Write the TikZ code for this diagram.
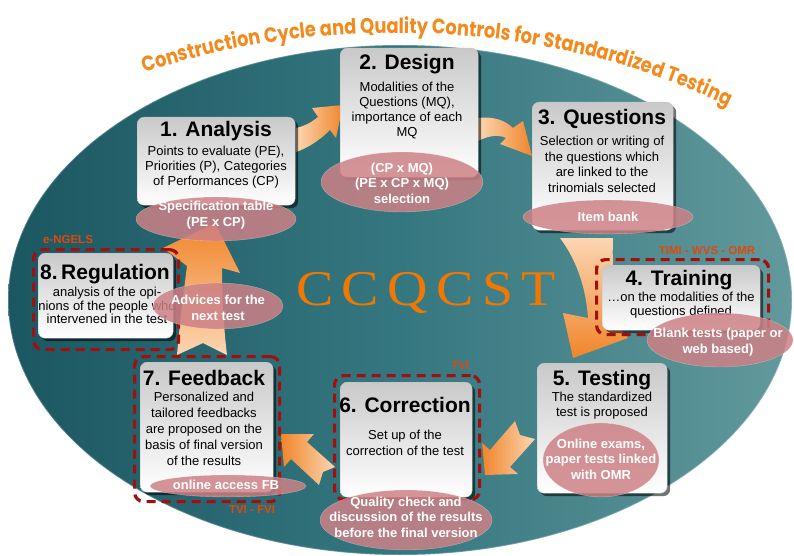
\documentclass[tikz,border=0pt]{standalone}
\usepackage{fontspec}
\setmainfont{Liberation Sans}
\newfontfamily\titlefont{Poppins}[FakeStretch=0.85]
\newfontfamily\ccfont{Liberation Serif}[LetterSpace=15]
\usetikzlibrary{shadows,decorations.text,shapes.geometric}
\definecolor{bgdark}{HTML}{1B5761}
\definecolor{bgmid}{HTML}{357780}
\definecolor{bglight}{HTML}{62999C}
\definecolor{arrowor}{HTML}{F0852A}
\definecolor{arrowpe}{HTML}{FCD6B2}
\definecolor{ellfill}{HTML}{CD8186}
\definecolor{dashred}{HTML}{A30E0E}
\definecolor{labelor}{HTML}{E0480C}
\definecolor{titleor}{HTML}{F28A1E}
\definecolor{ccor}{HTML}{F07800}
\definecolor{boxtop}{HTML}{C9C9C9}
\tikzset{
 boxst/.style={draw=gray!45, line width=0.4pt, rounded corners=7pt, top color=boxtop, bottom color=white,
   drop shadow={shadow xshift=3pt, shadow yshift=-3pt, opacity=0.55, fill=black}, inner sep=0, anchor=north west},
 headst/.style={font=\bfseries\fontsize{21}{21}\selectfont, inner sep=0, anchor=base},
 bodyst/.style={font=\fontsize{13}{15}\selectfont, align=center, inner sep=0, anchor=north},
 ellst/.style={ellipse, fill=ellfill, fill opacity=0.85, draw=white, draw opacity=0.35, inner sep=0},
 elltext/.style={text=white, font=\bfseries\fontsize{13}{15.5}\selectfont, align=center, inner sep=0},
 dashst/.style={draw=dashred, line width=3.2pt, dash pattern=on 9pt off 6pt, rounded corners=9pt, inner sep=0, anchor=north west},
 labst/.style={text=labelor, font=\bfseries\fontsize{11.5}{12}\selectfont, inner sep=0}
}
\begin{document}
\begin{tikzpicture}[x=1pt,y=1pt]
\useasboundingbox (0,0) rectangle (794,-556);
\fill[white] (0,0) rectangle (794,-556);
% background ellipse
\node[ellipse, minimum width=784, minimum height=510, inner sep=0, left color=bgdark, right color=bglight, middle color=bgmid, draw=white, draw opacity=0.25, line width=1.5pt] (bg) at (400,-300) {};
% title along arc
\path[decorate, decoration={text along path, text align=center, text color=titleor,
  text={|\titlefont\bfseries\fontsize{21}{21}\selectfont|Construction Cycle and Quality Controls for Standardized Testing}}]
  (395,-400) ++(118:555 and 367) arc[start angle=118, end angle=52, x radius=555, y radius=367];
% centre acronym
\node[text=ccor, font=\ccfont\fontsize{50}{50}\selectfont, anchor=base, inner sep=0] (cc) at (426,-305) {\scalebox{1.12}[1]{CCQCST}};
% arrows
\shade[left color=arrowpe, right color=arrowor] (296,-128) .. controls (305,-126) and (312,-122) .. (318,-117) -- (312,-108) -- (343,-105) -- (336,-138) -- (330,-130) .. controls (320,-140) and (308,-148) .. (296,-152) -- cycle;
\shade[left color=arrowpe, right color=arrowor] (478,-118) .. controls (492,-116) and (505,-120) .. (513,-128) -- (523,-121) -- (532,-156) -- (500,-144) -- (506,-138) .. controls (498,-134) and (488,-136) .. (478,-141) -- cycle;
\shade[top color=arrowpe, bottom color=arrowor] (560,-238) .. controls (578,-262) and (586,-290) .. (588,-318) -- (563,-313) -- (573,-358) -- (628,-338) -- (615,-322) .. controls (614,-290) and (612,-262) .. (613,-238) -- cycle;
\shade[right color=arrowpe, left color=arrowor] (515,-421) -- (490,-450) -- (482,-443) -- (485,-475) -- (518,-474) -- (510,-467) -- (535,-439) -- (520,-435) -- cycle;
\shade[right color=arrowpe, left color=arrowor] (335,-467) -- (307,-442) -- (314,-434) -- (281,-434) -- (284,-467) -- (291,-459) -- (319,-485) -- (323,-472) -- cycle;
\shade[bottom color=arrowpe, top color=arrowor] (177,-355) .. controls (180,-320) and (184,-290) .. (187,-266) -- (163,-248) -- (215,-223) -- (240,-273) -- (222,-268) .. controls (222,-300) and (224,-330) .. (227,-355) -- (203,-343) -- cycle;
% boxes
\node[boxst, minimum width=158, minimum height=88] (b1) at (137,-117) {};
\node[boxst, minimum width=138, minimum height=129] (b2) at (340,-48) {};
\node[boxst, minimum width=141, minimum height=128] (b3) at (532,-102) {};
\node[boxst, minimum width=158, minimum height=65] (b4) at (602,-265) {};
\node[boxst, minimum width=130, minimum height=130] (b5) at (537,-363) {};
\node[boxst, minimum width=132, minimum height=115] (b6) at (340,-382) {};
\node[boxst, minimum width=133, minimum height=130] (b7) at (140,-362) {};
\node[boxst, minimum width=135, minimum height=85] (b8) at (38,-253) {};
% headings
\node[headst] (h1) at (216,-137) {1. Analysis};
\node[headst] (h2) at (407,-70) {2. Design};
\node[headst] (h3) at (602,-125) {3. Questions};
\node[headst] (h4) at (679,-285) {4. Training};
\node[headst] (h5) at (602,-385) {5. Testing};
\node[headst] (h6) at (405,-412) {6. Correction};
\node[headst] (h7) at (204,-385) {7. Feedback};
\node[headst] (h8) at (105,-279) {8.\,Regulation};
% bodies
\node[bodyst] (d1) at (216,-146) {Points to evaluate (PE),\\Priorities (P), Categories\\of Performances (CP)};
\node[bodyst] (d2) at (407,-82) {Modalities of the\\Questions (MQ),\\importance of each\\MQ};
\node[bodyst, font=\fontsize{13}{15.6}\selectfont] (d3) at (602,-136) {Selection or writing of\\the questions which\\are linked to the\\trinomials selected};
\node[bodyst, font=\fontsize{13}{14}\selectfont] (d4) at (681,-292) {…on the modalities of the\\questions defined};
\node[bodyst] (d5) at (602,-392) {The standardized\\test is proposed};
\node[bodyst, font=\fontsize{13}{16}\selectfont] (d6) at (405,-430) {Set up of the\\correction of the test};
\node[bodyst, font=\fontsize{13}{16}\selectfont] (d7) at (204,-392) {Personalized and\\tailored feedbacks\\are proposed on the\\basis of final version\\of the results};
\node[bodyst, font=\fontsize{13}{13.6}\selectfont] (d8) at (107,-287) {analysis of the opi-\\nions of the people who\\intervened in the test};
% dashed frames
\node[dashst, minimum width=172, minimum height=75] (r4) at (595,-258) {};
\node[dashst, minimum width=145, minimum height=124] (r6) at (333,-374) {};
\node[dashst, minimum width=145, minimum height=145] (r7) at (133,-355) {};
\node[dashst, minimum width=145, minimum height=100] (r8) at (32,-248) {};
\node[labst] (l4) at (707,-251) {TIMI - WVS - OMR};
\node[labst] (l6) at (460,-366) {TVI};
\node[labst] (l7) at (252,-510) {TVI - FVI};
\node[labst] (l8) at (68,-240) {e-NGELS};
% ellipses
\node[ellst, minimum width=160, minimum height=44] (e1) at (216,-219) {};
\node[ellst, minimum width=162, minimum height=60] (e2) at (402,-182) {};
\node[ellst, minimum width=170, minimum height=34] (e3) at (608,-217) {};
\node[ellst, minimum width=146, minimum height=54] (e4) at (720,-340) {};
\node[ellst, minimum width=116, minimum height=74] (e5) at (601,-460) {};
\node[ellst, minimum width=172, minimum height=60] (e6) at (406,-520) {};
\node[ellst, minimum width=156, minimum height=22] (e7) at (228,-486) {};
\node[ellst, minimum width=130, minimum height=46] (e8) at (218,-306) {};
\node[elltext] (t1) at (216,-215) {Specification table\\(PE x CP)};
\node[elltext] (t2) at (402,-183) {(CP x MQ)\\(PE x CP x MQ)\\selection};
\node[elltext] (t3) at (608,-217) {Item bank};
\node[elltext] (t4) at (718,-342) {Blank tests (paper or\\web based)};
\node[elltext] (t5) at (601,-459) {Online exams,\\paper tests linked\\with OMR};
\node[elltext] (t6) at (406,-517) {Quality check and\\discussion of the results\\before the final version};
\node[elltext] (t7) at (226,-485) {online access FB};
\node[elltext] (t8) at (218,-308) {Advices for the\\next test};
\end{tikzpicture}
\end{document}
